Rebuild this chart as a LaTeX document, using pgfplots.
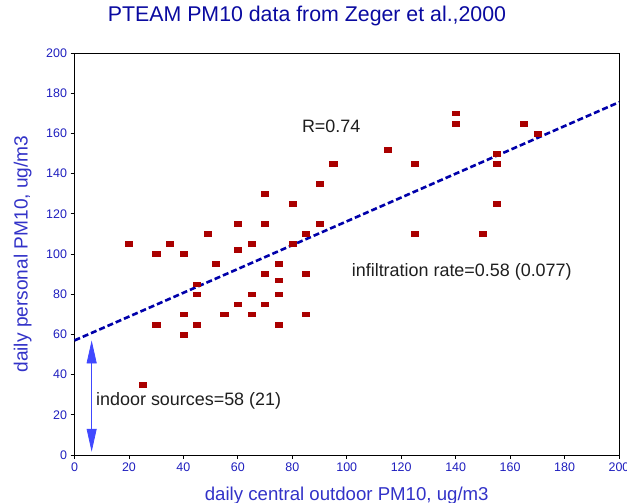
\documentclass[border=0pt]{standalone}
\usepackage{fontspec}
\setmainfont{Liberation Sans}
\usepackage{pgfplots}
\pgfplotsset{compat=1.18}
\usetikzlibrary{arrows.meta}
\definecolor{titleblue}{RGB}{10,10,160}
\definecolor{tickblue}{RGB}{30,30,190}
\definecolor{labelblue}{RGB}{50,50,200}
\definecolor{markred}{RGB}{170,0,0}
\definecolor{lineblue}{RGB}{0,0,170}
\definecolor{arrowblue}{RGB}{64,72,255}
\definecolor{annot}{RGB}{30,30,30}
\begin{document}
\begin{tikzpicture}[x=1bp,y=1bp]
\begin{axis}[
  at={(74.5bp,48bp)}, anchor=south west,
  scale only axis, width=544.5bp, height=402bp,
  xmin=0, xmax=200, ymin=0, ymax=200,
  xtick={0,20,...,200}, ytick={0,20,...,200},
  tick align=outside, tick pos=left, major tick length=4bp,
  axis line style={line width=0.8bp},
  every tick/.style={black, line width=0.8bp},
  ticklabel style={font=\fontsize{12.5}{12.5}\selectfont, text=tickblue},
  /pgf/number format/assume math mode=true,
  xlabel={daily central outdoor PM10, ug/m3},
  ylabel={daily personal PM10, ug/m3},
  label style={text=labelblue},
  xlabel style={at={(axis description cs:0.5,-0.1)}, anchor=center, font=\fontsize{18.7}{18.7}\selectfont},
  ylabel style={at={(axis description cs:-0.095,0.5)}, anchor=center, font=\fontsize{19.2}{19.2}\selectfont},
  title={PTEAM PM10 data from Zeger et al.,2000},
  title style={at={(axis description cs:0.427,1.077)}, anchor=center, font=\fontsize{21.4}{21.4}\selectfont, text=titleblue},
  clip=false,
]
\addplot[only marks, mark=square*, mark size=3bp, color=markred,
  mark options={xscale=1.2, yscale=0.8, draw=markred, fill=markred}] coordinates {
(95,145) (90,135) (70,130) (80,125) (60,115) (70,115) (90,115)
(49,110) (85,110) (20,105) (35,105) (65,105) (80,105) (60,102)
(30,100) (40,100) (52,95) (75,95) (70,90) (85,90) (75,87)
(45,85) (45,80) (65,80) (75,80) (60,75) (70,75) (40,70)
(55,70) (65,70) (85,70) (30,65) (45,65) (75,65) (40,60) (25,35)
(140,170) (140,165) (165,165) (170,160) (115,152) (125,145)
(155,150) (155,145) (155,125) (125,110) (150,110)
};
\addplot[lineblue, line width=2.6bp, dash pattern=on 6bp off 3bp] coordinates {(0,57) (200,175.5)};
\draw[arrowblue, line width=0.8bp, {Triangle[length=23bp,width=10bp]}-{Triangle[length=23bp,width=10bp]}] (axis cs:6.3,1.6) -- (axis cs:6.3,57);
\node[anchor=west, inner sep=0pt, text=annot, font=\fontsize{18}{18}\selectfont] at (axis cs:83.5,163.7) {R=0.74};
\node[anchor=west, inner sep=0pt, text=annot, font=\fontsize{18}{18}\selectfont] at (axis cs:101.8,91) {infiltration rate=0.58 (0.077)};
\node[anchor=west, inner sep=0pt, text=annot, font=\fontsize{18}{18}\selectfont] at (axis cs:7.9,26.9) {indoor sources=58 (21)};
\end{axis}
\pgfresetboundingbox
\path[use as bounding box] (0,0) rectangle (627,503);
\end{tikzpicture}
\end{document}
